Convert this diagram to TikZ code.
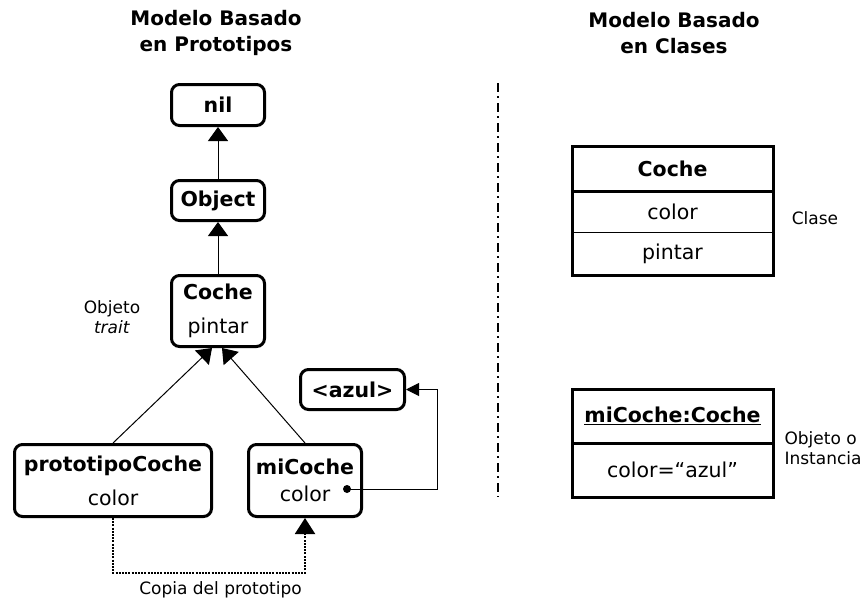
\documentclass[tikz,border=0pt]{standalone}
\usepackage{fontspec}
\setmainfont{DejaVu Sans}
\usepackage{tikz}
\usetikzlibrary{arrows.meta, positioning}
\tikzstyle{protobox} = [rectangle, rounded corners=8pt, draw=black, line width=3pt, align=center, inner sep=0pt, font=\fontsize{20.5}{34}\selectfont]
\tikzstyle{classpart} = [rectangle, minimum width=201pt, inner sep=0pt, outer sep=0pt, font=\fontsize{20.5}{24}\selectfont]
\tikzstyle{title} = [align=center, font=\fontsize{20}{26}\selectfont\bfseries]
\tikzstyle{note} = [align=center, font=\fontsize{17}{20}\selectfont]
\tikzstyle{inherit} = [line width=1pt, -{Triangle[width=20pt,length=14pt]}]
\tikzstyle{slotref} = [line width=1pt, -{Triangle[width=13pt,length=13pt]}]
\tikzstyle{copyline} = [line width=2pt, dash pattern=on 2pt off 1.2pt, -{Triangle[width=20pt,length=16pt]}]

\begin{document}
\begin{tikzpicture}[x=1pt, y=-1pt]
\useasboundingbox (0,0) rectangle (866,602);

% Titles
\node (ttlproto) [title] at (216,33) {Modelo Basado\\en Prototipos};
\node (ttlclass) [title] at (674,33) {Modelo Basado\\en Clases};

% Prototype chain
\node (nil) [protobox, minimum width=93pt, minimum height=41pt] at (218,105) {\textbf{nil}};
\node (object) [protobox, below=52pt of nil, minimum width=93pt, minimum height=40pt] {\textbf{Object}};
\node (coche) [protobox, below=52pt of object, minimum width=93pt, minimum height=71pt] {\textbf{Coche}\\pintar};
\node (trait) [note] at (112,317) {Objeto\\\textit{trait}};
\node (proto) [protobox, minimum width=197pt, minimum height=72pt] at (113,480.5) {\textbf{prototipoCoche}\\color};
\node (micoche) [protobox, right=34pt of proto, minimum width=113pt, minimum height=72pt] {\textbf{miCoche}\\[-7pt]color};
\node (azul) [protobox, above=32pt of micoche, xshift=47.5pt, minimum width=104pt, minimum height=40pt] {\textbf{<azul>}};
\node (slot) [circle, fill=black, inner sep=0pt, minimum size=8pt] at (347,489) {};
\coordinate (bend) at (437,489);

% Class model
\node (clsname) [classpart, minimum height=45pt] at (672.5,168.5) {\textbf{Coche}};
\node (clscolor) [classpart, below=0pt of clsname, minimum height=41pt] {color};
\node (clspintar) [classpart, below=0pt of clscolor, minimum height=43pt] {pintar};
\node (clase) [note] at (815,218) {Clase};

\node (objname) [classpart, minimum height=54pt] at (672.5,416) {\textbf{\underline{miCoche:Coche}}};
\node (objcolor) [classpart, below=0pt of objname, minimum height=54pt] {color=“azul”};
\node (instancia) [note, anchor=west, align=left] at (781,448) {Objeto o\\Instancia};

% Frames of the class boxes
\draw [line width=3pt] (clsname.north west) rectangle (clspintar.south east);
\draw [line width=3pt] (clsname.south west) -- (clsname.south east);
\draw [line width=1pt] (clscolor.south west) -- (clscolor.south east);
\draw [line width=3pt] (objname.north west) rectangle (objcolor.south east);
\draw [line width=3pt] (objname.south west) -- (objname.south east);

% Separator
\draw [line width=2pt, dash pattern=on 9pt off 4pt on 2pt off 5pt] (498,83) -- (498,497);

% Arrows
\draw [inherit] (object) -- (nil);
\draw [inherit] (coche) -- (object);
\draw [inherit] (proto.north) -- ([xshift=-6pt]coche.south);
\draw [inherit] (micoche.north) -- ([xshift=4pt]coche.south);
\draw [slotref] (slot.center) -- (bend) |- (azul.east);
\draw [copyline] (proto.south) -- ++(0,55) -| node[pos=0.28, below=4pt, note] {Copia del prototipo} (micoche.south);

\end{tikzpicture}
\end{document}
